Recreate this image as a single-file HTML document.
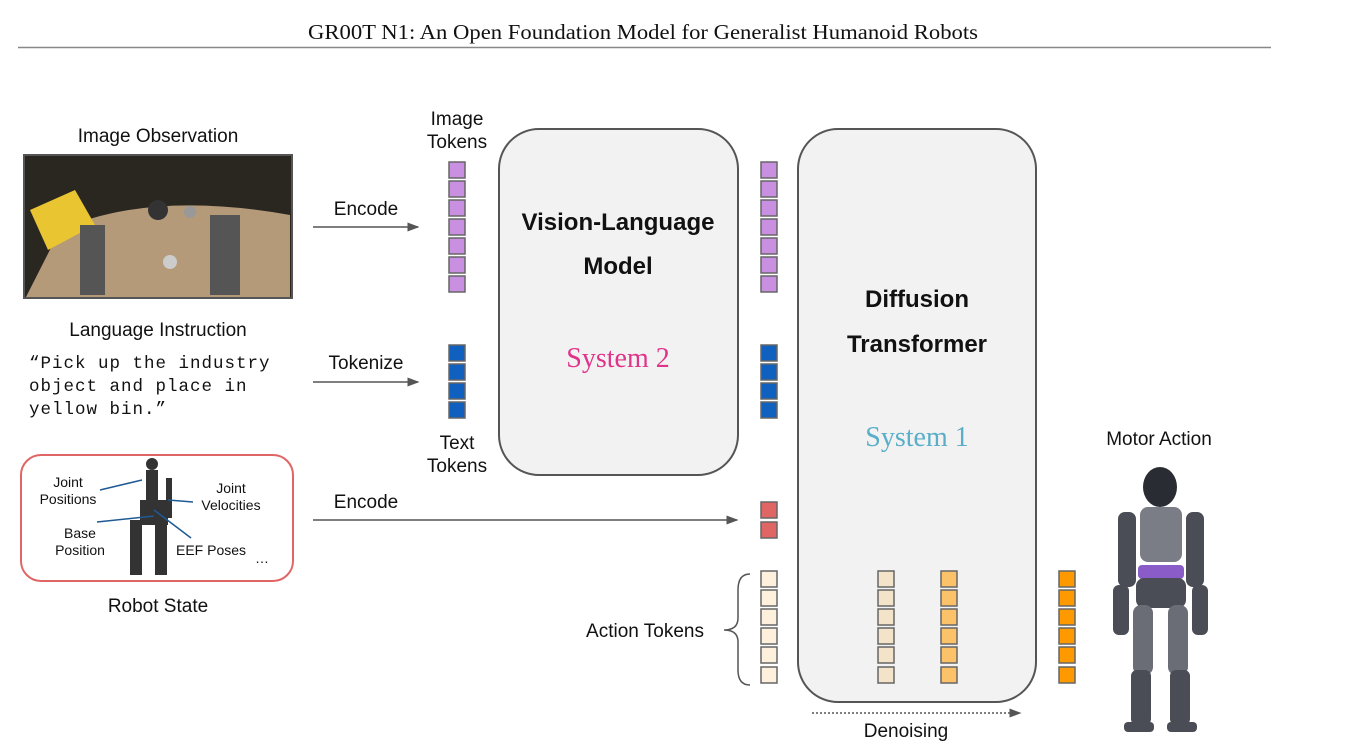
<!DOCTYPE html>
<html><head><meta charset="utf-8"><style>
body{margin:0;background:#fff}
svg{display:block}
.s{font-family:"Liberation Sans",sans-serif;fill:#111}
.m{font-family:"Liberation Mono",monospace;fill:#111}
</style></head><body>
<svg width="1359" height="745" viewBox="0 0 1359 745">
<defs>
<marker id="a" markerWidth="8" markerHeight="8" refX="7" refY="4" orient="auto"><path d="M0,1 L8,4 L0,7z" fill="#555"/></marker>
</defs>
<text x="643" y="39" text-anchor="middle" font-family="Liberation Serif,serif" font-size="21" fill="#111" textLength="670" lengthAdjust="spacingAndGlyphs">GR00T N1: An Open Foundation Model for Generalist Humanoid Robots</text>
<line x1="18" y1="47.5" x2="1271" y2="47.5" stroke="#888" stroke-width="1.5"/>

<text x="158" y="142" class="s" font-size="19" text-anchor="middle">Image Observation</text>
<rect x="24" y="155" width="268" height="143" fill="#2a2620" stroke="#555" stroke-width="2"/>
<path d="M26,297 L60,230 Q150,190 290,215 L290,297z" fill="#b49a78"/>
<path d="M30,210 L75,190 L95,225 L48,250z" fill="#e8c531"/>
<rect x="210" y="215" width="30" height="80" fill="#555"/><rect x="80" y="225" width="25" height="70" fill="#555"/>
<circle cx="170" cy="262" r="7" fill="#ccc"/><circle cx="190" cy="212" r="6" fill="#999"/><circle cx="158" cy="210" r="10" fill="#333"/>

<text x="158" y="336" class="s" font-size="19" text-anchor="middle">Language Instruction</text>
<text class="m" font-size="17.5" letter-spacing="1"><tspan x="29" y="368">“Pick up the industry</tspan><tspan x="29" y="391">object and place in</tspan><tspan x="29" y="414">yellow bin.”</tspan></text>

<rect x="21" y="455" width="272" height="126" rx="20" fill="#fff" stroke="#e06666" stroke-width="2"/>
<g fill="#333"><rect x="146" y="470" width="12" height="40"/><rect x="140" y="500" width="28" height="25"/><rect x="130" y="520" width="12" height="55"/><rect x="155" y="520" width="12" height="55"/><circle cx="152" cy="464" r="6"/><rect x="166" y="478" width="6" height="40"/></g>
<g stroke="#1f5a94" stroke-width="1.5"><line x1="100" y1="490" x2="142" y2="480"/><line x1="168" y1="500" x2="193" y2="502"/><line x1="97" y1="522" x2="154" y2="516"/><line x1="154" y1="510" x2="191" y2="538"/></g>
<g class="s" font-size="14" text-anchor="middle"><text x="68" y="487">Joint</text><text x="68" y="504">Positions</text><text x="231" y="493">Joint</text><text x="231" y="510">Velocities</text><text x="80" y="538">Base</text><text x="80" y="555">Position</text><text x="211" y="555">EEF Poses</text><text x="262" y="563">…</text></g>
<text x="158" y="612" class="s" font-size="19" text-anchor="middle">Robot State</text>

<g stroke="#555" stroke-width="1.5" marker-end="url(#a)">
<line x1="313" y1="227" x2="418" y2="227"/><line x1="313" y1="382" x2="418" y2="382"/><line x1="313" y1="520" x2="737" y2="520"/></g>
<line x1="812" y1="713" x2="1020" y2="713" stroke="#555" stroke-width="1.5" stroke-dasharray="2,2" marker-end="url(#a)"/>
<g class="s" font-size="19" text-anchor="middle"><text x="366" y="215">Encode</text><text x="366" y="369">Tokenize</text><text x="366" y="508">Encode</text>
<text x="457" y="125">Image</text><text x="457" y="148">Tokens</text><text x="457" y="449">Text</text><text x="457" y="472">Tokens</text>
<text x="645" y="637">Action Tokens</text><text x="1159" y="445">Motor Action</text><text x="906" y="737">Denoising</text></g>
<path d="M750,574 Q738,574 738,590 L738,618 Q738,630 724,630 Q738,630 738,642 L738,670 Q738,685 750,685" fill="none" stroke="#555" stroke-width="1.5"/>

<rect x="499" y="129" width="239" height="346" rx="40" fill="#f2f2f2" stroke="#555" stroke-width="2"/>
<rect x="798" y="129" width="238" height="573" rx="40" fill="#f2f2f2" stroke="#555" stroke-width="2"/>
<g class="s" font-size="24" font-weight="bold" text-anchor="middle"><text x="618" y="230">Vision-Language</text><text x="618" y="274">Model</text><text x="917" y="307">Diffusion</text><text x="917" y="352">Transformer</text></g>
<text x="618" y="367" text-anchor="middle" font-family="Liberation Serif,serif" font-size="28" fill="#e0338a">System 2</text>
<text x="917" y="446" text-anchor="middle" font-family="Liberation Serif,serif" font-size="28" fill="#5aaec8">System 1</text>

<g stroke="#666" stroke-width="1.5">
<g fill="#c98fe0"><rect x="449" y="162" width="16" height="16"/><rect x="449" y="181" width="16" height="16"/><rect x="449" y="200" width="16" height="16"/><rect x="449" y="219" width="16" height="16"/><rect x="449" y="238" width="16" height="16"/><rect x="449" y="257" width="16" height="16"/><rect x="449" y="276" width="16" height="16"/>
<rect x="761" y="162" width="16" height="16"/><rect x="761" y="181" width="16" height="16"/><rect x="761" y="200" width="16" height="16"/><rect x="761" y="219" width="16" height="16"/><rect x="761" y="238" width="16" height="16"/><rect x="761" y="257" width="16" height="16"/><rect x="761" y="276" width="16" height="16"/></g>
<g fill="#1060c0"><rect x="449" y="345" width="16" height="16"/><rect x="449" y="364" width="16" height="16"/><rect x="449" y="383" width="16" height="16"/><rect x="449" y="402" width="16" height="16"/>
<rect x="761" y="345" width="16" height="16"/><rect x="761" y="364" width="16" height="16"/><rect x="761" y="383" width="16" height="16"/><rect x="761" y="402" width="16" height="16"/></g>
<g fill="#e06666"><rect x="761" y="502" width="16" height="16"/><rect x="761" y="522" width="16" height="16"/></g>
<g fill="#fdf0dc"><rect x="761" y="571" width="16" height="16"/><rect x="761" y="590" width="16" height="16"/><rect x="761" y="609" width="16" height="16"/><rect x="761" y="628" width="16" height="16"/><rect x="761" y="647" width="16" height="16"/><rect x="761" y="667" width="16" height="16"/></g>
<g fill="#f3e3c8"><rect x="878" y="571" width="16" height="16"/><rect x="878" y="590" width="16" height="16"/><rect x="878" y="609" width="16" height="16"/><rect x="878" y="628" width="16" height="16"/><rect x="878" y="647" width="16" height="16"/><rect x="878" y="667" width="16" height="16"/></g>
<g fill="#fbc26a"><rect x="941" y="571" width="16" height="16"/><rect x="941" y="590" width="16" height="16"/><rect x="941" y="609" width="16" height="16"/><rect x="941" y="628" width="16" height="16"/><rect x="941" y="647" width="16" height="16"/><rect x="941" y="667" width="16" height="16"/></g>
<g fill="#ff9900"><rect x="1059" y="571" width="16" height="16"/><rect x="1059" y="590" width="16" height="16"/><rect x="1059" y="609" width="16" height="16"/><rect x="1059" y="628" width="16" height="16"/><rect x="1059" y="647" width="16" height="16"/><rect x="1059" y="667" width="16" height="16"/></g>
</g>

<g fill="#4a4d55">
<ellipse cx="1160" cy="487" rx="17" ry="20" fill="#2a2c33"/>
<rect x="1140" y="507" width="42" height="55" rx="8" fill="#7a7d85"/>
<rect x="1118" y="512" width="18" height="75" rx="7"/><rect x="1186" y="512" width="18" height="75" rx="7"/>
<rect x="1113" y="585" width="16" height="50" rx="6"/><rect x="1192" y="585" width="16" height="50" rx="6"/>
<rect x="1138" y="565" width="46" height="14" rx="4" fill="#8a5cc8"/>
<rect x="1136" y="578" width="50" height="30" rx="8"/>
<rect x="1133" y="605" width="20" height="70" rx="8" fill="#6a6d75"/><rect x="1168" y="605" width="20" height="70" rx="8" fill="#6a6d75"/>
<rect x="1131" y="670" width="20" height="55" rx="6"/><rect x="1170" y="670" width="20" height="55" rx="6"/>
<rect x="1124" y="722" width="30" height="10" rx="4"/><rect x="1167" y="722" width="30" height="10" rx="4"/>
</g>
</svg>
</body></html>
